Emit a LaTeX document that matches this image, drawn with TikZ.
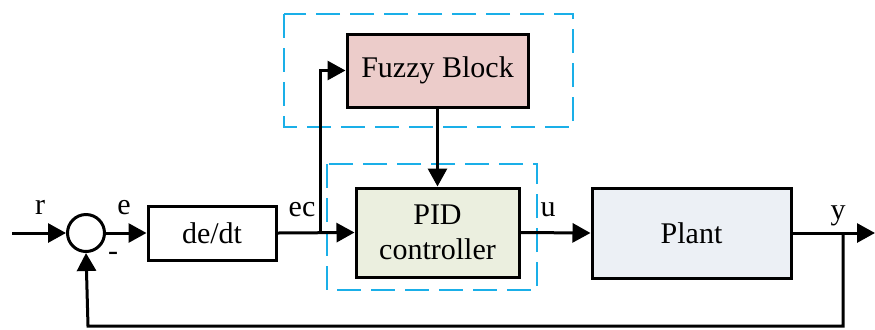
\documentclass[tikz,border=0pt]{standalone}
\usepackage{fontspec}
\setmainfont{Liberation Serif}
\usetikzlibrary{arrows.meta}
\definecolor{fuzzyfill}{HTML}{ECCCCA}
\definecolor{pidfill}{HTML}{EBEFDF}
\definecolor{plantfill}{HTML}{ECF0F5}
\definecolor{dashblue}{HTML}{1AAFE8}
\begin{document}
\begin{tikzpicture}[x=0.5pt,y=-0.5pt,
  font=\fontsize{15pt}{17.5pt}\selectfont,
  blockbox/.style={draw=black, line width=1.5pt, rectangle, inner sep=0pt, align=center},
  sumnode/.style={draw=black, line width=1.5pt, circle, minimum size=18.5pt, inner sep=0pt},
  conn/.style={line width=1.5pt, -{Triangle[length=9pt,width=9.5pt]}},
  groupbox/.style={draw=dashblue, line width=0.75pt, dash pattern=on 12pt off 5pt},
  lbl/.style={inner sep=0pt}
]
\useasboundingbox (0,0) rectangle (875,329);
% group boxes
\draw[groupbox] (284,14) rectangle (573,127);
\draw[groupbox] (327,164) rectangle (537,290);
% blocks
\node[sumnode] (sum) at (86,233) {};
\node[blockbox, minimum width=64pt, minimum height=27pt] (ddt) at (212,233) {de/dt};
\node[blockbox, fill=fuzzyfill, minimum width=90.5pt, minimum height=36.5pt] (fuzzy) at (437.5,70.5) {Fuzzy Block};
\node[blockbox, fill=pidfill, minimum width=81.5pt, minimum height=44.5pt] (pid) at (437.5,232.5) {PID\\controller};
\node[blockbox, fill=plantfill, minimum width=99.5pt, minimum height=45pt] (plant) at (691.5,233) {Plant};
% coordinates
\coordinate (in) at (12,233);
\coordinate (branch) at (320,233);
\coordinate (tap) at (843,233);
\coordinate (out) at (875,233);
\coordinate (fbl) at (843,326);
\coordinate (fbr) at (88,326);
% connectors
\draw[conn] (in) -- (sum.west);
\draw[conn] (sum.east) -- (ddt.west);
\draw[conn] (ddt.east) -- (pid.west);
\draw[conn] (branch) |- (fuzzy.west);
\draw[conn] (fuzzy.south) -- (pid.north);
\draw[conn] (pid.east) -- (plant.west);
\draw[conn] (plant.east) -- (out);
\draw[conn] (tap) -- (fbl) -- (fbr) -- (sum.south);
% labels
\node[lbl] (lr) at (40,207) {r};
\node[lbl] (le) at (124,208) {e};
\node[lbl] (lminus) at (113,256) {-};
\node[lbl] (lec) at (302,210) {ec};
\node[lbl] (lu) at (548,210) {u};
\node[lbl] (ly) at (838,216) {y};
\end{tikzpicture}
\end{document}
